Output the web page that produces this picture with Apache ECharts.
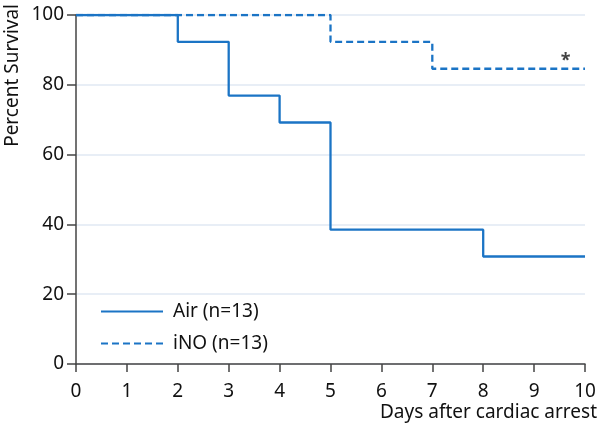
<!DOCTYPE html>
<html><head><meta charset="utf-8">
<script src="https://cdn.jsdelivr.net/npm/echarts@6/dist/echarts.min.js"></script>
<style>html,body{margin:0;padding:0;background:#fff}#c{width:600px;height:424px}</style>
</head><body><div id="c"></div>
<script>
var airDays = [0, 2, 3, 4, 5, 8, 10];
var airSurvival = [100, 92.3, 76.9, 69.2, 38.5, 30.8, 30.8];
var inoDays = [0, 5, 7, 10];
var inoSurvival = [100, 92.3, 84.6, 84.6];
var seriesNames = ['Air (n=13)', 'iNO (n=13)'];
var sigMark = [9.62, 86.9];
var xTicks = [0,1,2,3,4,5,6,7,8,9,10];
var yTicks = [0,20,40,60,80,100];

var font = 'Noto Sans';
var fs = 19;
var blue = '#1b74c5';
var ink = '#111';
function pairs(xs, ys){ return xs.map(function(x,i){return [x, ys[i]];}); }

var chart = echarts.init(document.getElementById('c'), null, {renderer:'canvas'});
chart.setOption({
  animation: false,
  textStyle: {fontFamily: font},
  grid: {left: 76, right: 14, top: 15, bottom: 60, containLabel: false},
  legend: {
    left: 95, top: 297, orient: 'vertical', itemWidth: 62, itemHeight: 20, itemGap: 13,
    textStyle: {fontFamily: font, fontSize: fs, color: ink, padding: [0,0,0,5]},
    data: seriesNames.map(function(n){ return {name: n, itemStyle: {opacity: 0}}; })
  },
  graphic: [
    {type: 'text', left: 3, top: 4, rotation: Math.PI/2,
     style: {text: 'Percent Survival', fontFamily: font, fontSize: fs, fill: ink}}
  ],
  xAxis: {
    type: 'value', min: 0, max: 10, interval: 1,
    name: 'Days after cardiac arrest', nameLocation: 'end',
    nameGap: 0,
    nameTextStyle: {fontFamily: font, fontSize: fs, color: ink, align: 'right', verticalAlign: 'top', padding: [39, -12, 0, 0]},
    axisLine: {show: true, onZero: false, lineStyle: {color: '#444', width: 1.5}},
    axisTick: {show: true, inside: false, length: 8, lineStyle: {color: '#444', width: 1.5}},
    axisLabel: {fontFamily: font, fontSize: fs, color: ink, margin: 18,
      formatter: function(v){ return xTicks.indexOf(v) >= 0 ? String(v) : ''; }},
    splitLine: {show: false}
  },
  yAxis: {
    type: 'value', min: 0, max: 100, interval: 20,
    axisLine: {show: true, lineStyle: {color: '#444', width: 1.5}},
    axisTick: {show: true, inside: false, length: 9, lineStyle: {color: '#444', width: 1.5}},
    axisLabel: {fontFamily: font, fontSize: fs, color: ink, margin: 12,
      formatter: function(v){ return yTicks.indexOf(v) >= 0 ? String(v) : ''; }},
    splitLine: {show: true, lineStyle: {color: '#e1e8f3', width: 1.5}}
  },
  series: [
    {name: seriesNames[0], type: 'line', step: 'end', showSymbol: false, symbol: 'none',
     lineStyle: {color: blue, width: 2.3, type: 'solid'}, itemStyle: {color: blue},
     data: pairs(airDays, airSurvival), z: 3},
    {name: seriesNames[1], type: 'line', step: 'end', showSymbol: false, symbol: 'none',
     lineStyle: {color: blue, width: 2.3, type: [7, 4]}, itemStyle: {color: blue},
     data: pairs(inoDays, inoSurvival), z: 3},
    {name: 'sig', type: 'scatter', symbolSize: 0, silent: true,
     data: [sigMark],
     label: {show: true, position: 'inside', formatter: '*', fontFamily: font, fontSize: 18, fontWeight: 'bold', color: '#111'}}
  ]
});
</script></body></html>
